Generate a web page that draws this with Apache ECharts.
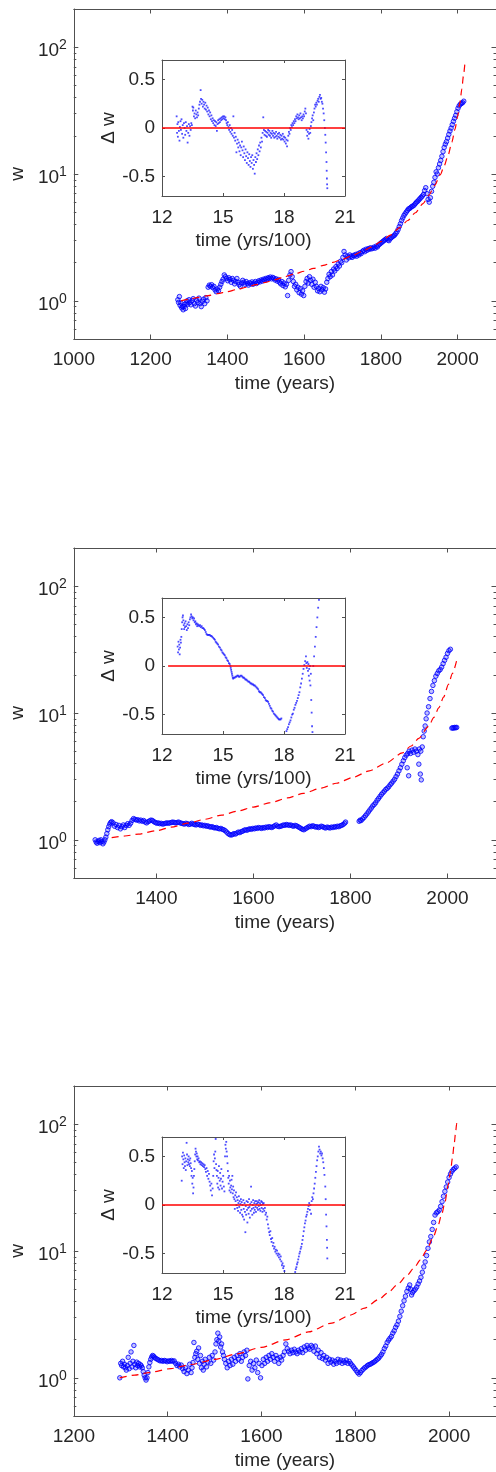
<!DOCTYPE html>
<html><head><meta charset="utf-8">
<script src="https://cdn.jsdelivr.net/npm/echarts@6/dist/echarts.min.js"></script>
<style>html,body{margin:0;padding:0;background:#fff}#c{width:496px;height:1472px}</style>
</head><body><div id="c"></div><script>
// ---------- tick values ----------
const p1XTicks = [1000,1200,1400,1600,1800,2000];
const p2XTicks = [1400,1600,1800,2000];
const p3XTicks = [1200,1400,1600,1800,2000];
const yMajorTicks = [1,10,100];
const yMinorTicks = [0.5,0.6,0.7,0.8,0.9,2,3,4,5,6,7,8,9,20,30,40,50,60,70,80,90,200];
const insetXTicks = [12,15,18,21];
const insetYTicks = [-0.5,0,0.5];

// ---------- panel 1 ----------
const p1Obs = [[1271,1.02],[1273,0.97],[1275,1.08],[1277,0.92],[1279,0.96],[1281,0.88],[1283,0.9],[1285,0.85],[1287,0.9],[1289,0.94],[1291,0.87],[1293,0.96],[1295,1.0],[1297,0.94],[1300,1.02],[1302,0.97],[1305,0.93],[1308,1.0],[1311,1.04],[1314,0.95],[1317,0.91],[1320,1.01],[1323,0.97],[1326,1.05],[1329,0.95],[1332,0.9],[1335,0.99],[1338,1.03],[1341,0.95],[1344,1.06],[1347,1.0],[1350,1.28],[1353,1.33],[1356,1.3],[1359,1.34],[1362,1.27],[1365,1.3],[1368,1.22],[1371,1.18],[1374,1.24],[1377,1.2],[1380,1.28],[1383,1.35],[1386,1.42],[1389,1.48],[1392,1.6],[1395,1.55],[1398,1.5],[1401,1.44],[1404,1.52],[1407,1.47],[1410,1.4],[1413,1.5],[1416,1.45],[1419,1.36],[1422,1.42],[1425,1.5],[1428,1.4],[1431,1.34],[1434,1.3],[1437,1.38],[1440,1.45],[1443,1.4],[1446,1.35],[1449,1.42],[1452,1.37],[1455,1.33],[1458,1.39],[1461,1.36],[1464,1.41],[1467,1.35],[1470,1.38],[1473,1.42],[1476,1.37],[1479,1.4],[1482,1.44],[1485,1.41],[1488,1.46],[1491,1.43],[1494,1.48],[1497,1.45],[1500,1.5],[1503,1.47],[1506,1.52],[1509,1.5],[1512,1.54],[1515,1.49],[1518,1.53],[1521,1.51],[1524,1.46],[1527,1.49],[1530,1.43],[1533,1.47],[1536,1.4],[1539,1.36],[1542,1.42],[1545,1.32],[1548,1.38],[1551,1.29],[1554,1.35],[1557,1.1],[1560,1.45],[1563,1.6],[1566,1.7],[1569,1.55],[1572,1.42],[1575,1.3],[1578,1.35],[1581,1.22],[1584,1.28],[1587,1.16],[1590,1.25],[1593,1.13],[1596,1.2],[1599,1.1],[1602,1.3],[1605,1.42],[1608,1.5],[1611,1.38],[1614,1.55],[1617,1.45],[1620,1.35],[1623,1.48],[1626,1.28],[1629,1.4],[1632,1.3],[1635,1.2],[1638,1.25],[1641,1.18],[1644,1.3],[1647,1.22],[1650,1.27],[1653,1.17],[1656,1.24],[1659,1.4],[1662,1.5],[1665,1.62],[1668,1.55],[1671,1.7],[1674,1.6],[1677,1.78],[1680,1.72],[1683,1.86],[1686,1.8],[1689,1.95],[1692,1.88],[1695,2.05],[1698,2.0],[1701,2.2],[1704,2.45],[1707,2.3],[1710,2.1],[1713,2.25],[1716,2.18],[1719,2.3],[1722,2.24],[1725,2.2],[1728,2.28],[1731,2.26],[1734,2.32],[1737,2.25],[1740,2.35],[1743,2.3],[1746,2.4],[1749,2.36],[1752,2.45],[1755,2.5],[1758,2.44],[1761,2.55],[1764,2.5],[1767,2.58],[1770,2.55],[1773,2.62],[1776,2.57],[1779,2.6],[1782,2.65],[1785,2.6],[1788,2.7],[1791,2.66],[1794,2.75],[1797,2.8],[1800,2.85],[1803,2.9],[1806,2.95],[1809,3.0],[1812,3.05],[1815,3.1],[1818,3.02],[1821,2.98],[1824,3.08],[1827,3.15],[1830,3.2],[1833,3.25],[1836,3.3],[1839,3.4],[1842,3.5],[1845,3.65],[1848,3.85],[1851,4.05],[1854,4.3],[1857,4.5],[1860,4.7],[1863,4.85],[1866,5.0],[1869,5.15],[1872,5.3],[1875,5.35],[1878,5.45],[1881,5.55],[1884,5.6],[1887,5.7],[1890,5.85],[1893,6.0],[1896,6.1],[1899,6.25],[1902,6.4],[1905,6.55],[1908,6.7],[1911,6.9],[1914,7.4],[1917,7.8],[1920,7.0],[1923,6.3],[1926,6.0],[1929,6.5],[1932,7.3],[1935,8.0],[1938,8.6],[1941,9.4],[1944,10.4],[1947,10.0],[1950,11.2],[1953,12.0],[1956,12.8],[1959,13.8],[1962,15.0],[1965,16.2],[1968,17.2],[1971,18.0],[1974,19.2],[1977,20.5],[1980,21.8],[1983,23.0],[1986,24.5],[1989,26.0],[1992,27.5],[1995,29.0],[1998,31.0],[2001,33.0],[2004,34.5],[2007,35.5],[2010,36.0],[2013,36.5],[2016,37.5]];
const p1Fit = [[1279,1.0],[1300,1.03],[1325,1.065],[1350,1.1],[1375,1.14],[1400,1.18],[1425,1.23],[1450,1.28],[1475,1.34],[1500,1.4],[1525,1.47],[1550,1.55],[1575,1.63],[1600,1.71],[1625,1.8],[1650,1.9],[1675,2.01],[1700,2.13],[1725,2.27],[1750,2.44],[1775,2.65],[1800,2.93],[1825,3.3],[1850,3.8],[1870,4.3],[1890,4.95],[1910,5.85],[1925,6.8],[1940,8.1],[1955,9.9],[1965,11.6],[1975,14.0],[1985,17.8],[1993,22.5],[2000,28.5],[2006,36.5],[2011,47.0],[2015,59.0],[2019,75.0]];
const p1Res = [[12.72,0.12],[12.74,-0.05],[12.76,0.04],[12.78,-0.09],[12.80,0.06],[12.83,-0.03],[12.86,-0.13],[12.88,0.01],[12.91,0.07],[12.93,-0.02],[12.96,0.09],[12.99,-0.06],[13.02,0.03],[13.05,-0.1],[13.08,0.05],[13.11,0.0],[13.14,-0.07],[13.17,0.06],[13.20,-0.03],[13.23,0.02],[13.26,-0.15],[13.29,-0.05],[13.32,0.04],[13.35,-0.08],[13.38,0.02],[13.41,-0.02],[13.44,0.05],[13.47,0.03],[13.50,0.22],[13.52,0.18],[13.54,0.21],[13.57,0.12],[13.60,0.15],[13.63,0.1],[13.66,0.18],[13.69,0.14],[13.72,0.11],[13.75,0.16],[13.78,0.13],[13.81,0.2],[13.84,0.24],[13.87,0.27],[13.90,0.39],[13.92,0.3],[13.95,0.25],[13.98,0.29],[14.01,0.22],[14.04,0.27],[14.07,0.24],[14.10,0.2],[14.13,0.26],[14.16,0.19],[14.19,0.23],[14.22,0.17],[14.25,0.21],[14.28,0.14],[14.31,0.18],[14.34,0.12],[14.37,0.16],[14.40,0.09],[14.43,0.13],[14.46,0.07],[14.49,0.1],[14.52,0.05],[14.55,0.08],[14.58,0.03],[14.61,0.07],[14.64,0.02],[14.67,0.06],[14.70,-0.03],[14.73,0.04],[14.76,0.08],[14.79,0.05],[14.82,0.09],[14.85,0.06],[14.88,0.1],[14.91,0.08],[14.94,0.11],[14.97,0.09],[15.00,0.12],[15.03,0.1],[15.06,0.12],[15.09,0.09],[15.12,0.11],[15.15,0.08],[15.18,0.05],[15.21,0.03],[15.24,0.06],[15.27,0.01],[15.30,-0.02],[15.33,0.03],[15.36,-0.04],[15.39,0.0],[15.42,-0.06],[15.45,-0.02],[15.48,-0.08],[15.51,0.12],[15.54,-0.1],[15.57,-0.05],[15.60,-0.13],[15.63,-0.09],[15.66,-0.25],[15.69,-0.16],[15.72,-0.12],[15.75,-0.2],[15.78,-0.15],[15.81,-0.24],[15.84,-0.18],[15.87,-0.28],[15.90,-0.2],[15.93,-0.14],[15.96,-0.23],[15.99,-0.3],[16.02,-0.19],[16.05,-0.26],[16.08,-0.33],[16.11,-0.22],[16.14,-0.29],[16.17,-0.36],[16.20,-0.25],[16.23,-0.31],[16.26,-0.38],[16.29,-0.27],[16.32,-0.34],[16.35,-0.4],[16.38,-0.3],[16.41,-0.36],[16.44,-0.28],[16.47,-0.42],[16.50,-0.33],[16.53,-0.38],[16.56,-0.47],[16.59,-0.3],[16.62,-0.35],[16.65,-0.26],[16.68,-0.32],[16.71,-0.22],[16.74,-0.28],[16.77,-0.18],[16.80,-0.24],[16.83,-0.15],[16.86,-0.2],[16.89,-0.1],[16.92,-0.14],[16.95,-0.05],[16.98,0.11],[17.01,-0.02],[17.04,-0.07],[17.07,-0.03],[17.10,-0.08],[17.13,-0.04],[17.16,-0.09],[17.19,-0.05],[17.22,-0.02],[17.25,-0.07],[17.28,-0.03],[17.31,-0.08],[17.34,-0.05],[17.37,-0.1],[17.40,-0.06],[17.43,-0.03],[17.46,-0.08],[17.49,-0.05],[17.52,-0.1],[17.55,-0.06],[17.58,-0.09],[17.61,-0.04],[17.64,-0.08],[17.67,-0.11],[17.70,-0.06],[17.73,-0.09],[17.76,-0.05],[17.79,-0.1],[17.82,-0.07],[17.85,-0.12],[17.88,-0.08],[17.91,-0.11],[17.94,-0.06],[17.97,-0.12],[18.00,-0.09],[18.03,-0.14],[18.06,-0.1],[18.09,-0.16],[18.12,-0.12],[18.15,-0.19],[18.18,-0.13],[18.21,-0.08],[18.24,-0.04],[18.27,-0.06],[18.30,0.0],[18.33,-0.02],[18.36,0.03],[18.39,0.01],[18.42,0.05],[18.45,0.03],[18.48,0.07],[18.51,0.05],[18.54,0.09],[18.57,0.07],[18.60,0.12],[18.63,0.1],[18.66,0.14],[18.69,0.11],[18.72,0.09],[18.75,0.13],[18.78,0.1],[18.81,0.15],[18.84,0.11],[18.87,0.08],[18.90,0.12],[18.93,0.1],[18.96,0.14],[18.99,0.12],[19.02,0.17],[19.05,0.2],[19.08,0.15],[19.11,-0.02],[19.14,-0.08],[19.17,-0.04],[19.20,-0.11],[19.23,-0.06],[19.26,-0.01],[19.29,-0.05],[19.32,0.02],[19.35,0.06],[19.38,0.1],[19.41,0.13],[19.44,0.08],[19.47,0.16],[19.50,0.2],[19.53,0.24],[19.56,0.22],[19.59,0.26],[19.62,0.24],[19.65,0.28],[19.68,0.3],[19.71,0.27],[19.74,0.32],[19.77,0.34],[19.80,0.3],[19.83,0.31],[19.86,0.27],[19.89,0.25],[19.92,0.2],[19.95,0.15],[19.98,0.08],[20.01,0.0],[20.03,-0.07],[20.05,-0.15],[20.07,-0.25],[20.09,-0.35],[20.10,-0.44],[20.11,-0.52],[20.12,-0.58],[20.13,-0.62]];
const p1Zero = [[12,0],[21,0]];

// ---------- panel 2 ----------
const p2Obs = [[1274,1.0],[1276,0.96],[1278,0.94],[1280,0.97],[1282,0.99],[1284,0.95],[1286,1.0],[1288,0.97],[1290,0.93],[1292,0.96],[1294,1.0],[1296,1.05],[1298,1.12],[1300,1.2],[1302,1.27],[1304,1.33],[1306,1.37],[1308,1.39],[1311,1.36],[1314,1.28],[1317,1.32],[1320,1.25],[1323,1.3],[1326,1.22],[1329,1.27],[1332,1.31],[1335,1.25],[1338,1.3],[1341,1.34],[1344,1.3],[1347,1.35],[1350,1.42],[1353,1.47],[1356,1.45],[1359,1.43],[1362,1.44],[1365,1.41],[1368,1.43],[1371,1.4],[1374,1.42],[1377,1.38],[1380,1.36],[1383,1.39],[1386,1.41],[1389,1.43],[1392,1.42],[1395,1.39],[1398,1.37],[1401,1.35],[1404,1.36],[1407,1.34],[1410,1.35],[1413,1.33],[1416,1.34],[1419,1.35],[1422,1.36],[1425,1.35],[1428,1.36],[1431,1.37],[1434,1.38],[1437,1.37],[1440,1.36],[1443,1.37],[1446,1.38],[1449,1.36],[1452,1.35],[1455,1.34],[1458,1.33],[1461,1.35],[1464,1.34],[1467,1.32],[1470,1.33],[1473,1.35],[1476,1.33],[1479,1.32],[1482,1.31],[1485,1.33],[1488,1.32],[1491,1.3],[1494,1.31],[1497,1.29],[1500,1.3],[1503,1.28],[1506,1.29],[1509,1.27],[1512,1.26],[1515,1.27],[1518,1.25],[1521,1.24],[1524,1.25],[1527,1.23],[1530,1.22],[1533,1.23],[1536,1.21],[1539,1.2],[1542,1.18],[1545,1.15],[1548,1.12],[1551,1.1],[1554,1.09],[1557,1.1],[1560,1.12],[1563,1.11],[1566,1.13],[1569,1.15],[1572,1.14],[1575,1.16],[1578,1.17],[1581,1.19],[1584,1.2],[1587,1.19],[1590,1.21],[1593,1.22],[1596,1.21],[1599,1.23],[1602,1.22],[1605,1.24],[1608,1.23],[1611,1.25],[1614,1.24],[1617,1.23],[1620,1.25],[1623,1.24],[1626,1.26],[1629,1.25],[1632,1.27],[1635,1.26],[1638,1.25],[1641,1.27],[1644,1.29],[1647,1.31],[1650,1.28],[1653,1.27],[1656,1.28],[1659,1.29],[1662,1.31],[1665,1.3],[1668,1.32],[1671,1.31],[1674,1.3],[1677,1.31],[1680,1.29],[1683,1.28],[1686,1.3],[1689,1.29],[1692,1.27],[1695,1.25],[1698,1.23],[1701,1.21],[1704,1.2],[1707,1.22],[1710,1.24],[1713,1.26],[1716,1.28],[1719,1.27],[1722,1.29],[1725,1.28],[1728,1.26],[1731,1.27],[1734,1.25],[1737,1.26],[1740,1.28],[1743,1.27],[1746,1.25],[1749,1.24],[1752,1.26],[1755,1.25],[1758,1.24],[1761,1.26],[1764,1.25],[1767,1.27],[1770,1.26],[1773,1.28],[1776,1.27],[1779,1.29],[1782,1.3],[1785,1.32],[1788,1.35],[1790,1.38],[1818,1.4],[1820,1.43],[1822,1.42],[1825,1.46],[1828,1.5],[1831,1.55],[1834,1.6],[1837,1.66],[1840,1.72],[1843,1.78],[1846,1.85],[1849,1.9],[1852,1.96],[1855,2.05],[1858,2.12],[1861,2.2],[1864,2.28],[1867,2.35],[1870,2.42],[1873,2.5],[1876,2.55],[1879,2.62],[1882,2.72],[1885,2.8],[1888,2.9],[1891,3.0],[1894,3.15],[1897,3.3],[1900,3.5],[1903,3.7],[1906,3.95],[1909,4.2],[1912,4.45],[1915,4.65],[1917,3.7],[1918,4.8],[1920,3.2],[1921,5.0],[1924,4.8],[1927,5.1],[1930,4.9],[1933,5.2],[1936,5.0],[1939,4.7],[1941,3.95],[1942,5.2],[1944,3.3],[1945,5.0],[1946,2.97],[1948,5.4],[1950,6.5],[1952,7.2],[1954,7.9],[1956,9.0],[1958,10.0],[1961,11.2],[1964,13.0],[1967,14.8],[1970,16.5],[1973,18.0],[1976,19.5],[1979,20.5],[1982,21.5],[1985,22.0],[1988,23.0],[1991,24.5],[1994,26.0],[1997,27.5],[2000,29.5],[2003,31.0],[2006,31.8],[2009,7.6],[2011,7.65],[2013,7.6],[2015,7.7],[2017,7.65],[2019,7.7]];
const p2Fit = [[1308,1.04],[1335,1.072],[1363,1.109],[1400,1.18],[1431,1.259],[1465,1.352],[1500,1.452],[1535,1.567],[1567,1.683],[1600,1.811],[1635,1.963],[1670,2.138],[1703,2.323],[1740,2.559],[1771,2.793],[1805,3.105],[1839,3.499],[1873,4.027],[1907,4.842],[1925,5.495],[1941,6.31],[1961,7.852],[1972,9.226],[1982,10.96],[1992,13.34],[2002,16.79],[2010,20.42],[2019,26.0]];
const p2Res = [[12.77,0.2],[12.79,0.14],[12.81,0.25],[12.83,0.17],[12.85,0.22],[12.87,0.12],[12.89,0.19],[12.91,0.27],[12.93,0.24],[12.95,0.3],[12.97,0.38],[12.99,0.45],[13.01,0.5],[13.03,0.52],[13.05,0.47],[13.07,0.42],[13.09,0.38],[13.11,0.44],[13.13,0.4],[13.16,0.46],[13.19,0.41],[13.22,0.37],[13.25,0.43],[13.28,0.39],[13.31,0.45],[13.34,0.42],[13.37,0.48],[13.40,0.5],[13.43,0.53],[13.46,0.51],[13.49,0.49],[13.52,0.5],[13.55,0.47],[13.58,0.49],[13.61,0.45],[13.64,0.46],[13.67,0.43],[13.70,0.44],[13.73,0.41],[13.76,0.43],[13.79,0.42],[13.83,0.41],[13.87,0.42],[13.91,0.4],[13.95,0.41],[13.99,0.39],[14.03,0.39],[14.07,0.38],[14.11,0.37],[14.15,0.35],[14.19,0.33],[14.23,0.32],[14.27,0.32],[14.31,0.32],[14.35,0.32],[14.39,0.31],[14.43,0.31],[14.47,0.3],[14.52,0.29],[14.56,0.28],[14.60,0.27],[14.64,0.25],[14.68,0.24],[14.72,0.23],[14.76,0.22],[14.80,0.2],[14.85,0.19],[14.89,0.17],[14.93,0.16],[14.97,0.14],[15.01,0.13],[15.05,0.12],[15.09,0.11],[15.13,0.09],[15.17,0.08],[15.21,0.06],[15.25,0.05],[15.29,0.03],[15.33,0.02],[15.36,0.0],[15.38,-0.02],[15.40,-0.04],[15.42,-0.06],[15.44,-0.08],[15.46,-0.1],[15.48,-0.12],[15.50,-0.13],[15.54,-0.12],[15.58,-0.12],[15.62,-0.11],[15.66,-0.11],[15.70,-0.1],[15.74,-0.1],[15.78,-0.11],[15.82,-0.11],[15.86,-0.1],[15.91,-0.1],[15.95,-0.11],[15.99,-0.12],[16.03,-0.12],[16.07,-0.13],[16.11,-0.14],[16.15,-0.14],[16.19,-0.15],[16.24,-0.16],[16.28,-0.16],[16.32,-0.17],[16.36,-0.18],[16.40,-0.18],[16.44,-0.19],[16.48,-0.19],[16.52,-0.2],[16.56,-0.2],[16.60,-0.21],[16.65,-0.22],[16.69,-0.23],[16.73,-0.24],[16.77,-0.26],[16.81,-0.27],[16.85,-0.27],[16.89,-0.28],[16.93,-0.29],[16.97,-0.3],[17.01,-0.32],[17.06,-0.33],[17.10,-0.35],[17.14,-0.36],[17.18,-0.36],[17.22,-0.37],[17.26,-0.39],[17.30,-0.41],[17.34,-0.43],[17.38,-0.44],[17.42,-0.46],[17.46,-0.47],[17.50,-0.49],[17.55,-0.5],[17.59,-0.51],[17.63,-0.52],[17.67,-0.53],[17.71,-0.54],[17.75,-0.55],[17.79,-0.55],[17.83,-0.55],[17.87,-0.54],[18.12,-0.67],[18.16,-0.65],[18.20,-0.63],[18.24,-0.6],[18.28,-0.58],[18.32,-0.56],[18.36,-0.53],[18.40,-0.5],[18.44,-0.49],[18.48,-0.45],[18.52,-0.43],[18.56,-0.4],[18.60,-0.38],[18.64,-0.36],[18.68,-0.33],[18.72,-0.3],[18.76,-0.27],[18.80,-0.22],[18.84,-0.18],[18.88,-0.13],[18.92,-0.08],[18.96,-0.03],[19.00,0.01],[19.04,0.05],[19.08,0.1],[19.10,0.03],[19.12,-0.02],[19.15,0.04],[19.18,-0.05],[19.20,0.02],[19.22,-0.1],[19.24,-0.03],[19.26,-0.15],[19.28,0.0],[19.30,-0.2],[19.32,-0.08],[19.34,-0.35],[19.36,-0.48],[19.38,-0.62],[19.40,-0.68],[19.44,0.0],[19.48,0.1],[19.52,0.2],[19.56,0.3],[19.60,0.4],[19.64,0.5],[19.68,0.6],[19.72,0.68]];
const p2Zero = [[12.3,0],[21,0]];

// ---------- panel 3 ----------
const p3Obs = [[1298,1.0],[1300,1.3],[1302,1.25],[1304,1.35],[1306,1.22],[1308,1.28],[1310,1.2],[1312,1.15],[1314,1.25],[1316,1.45],[1318,1.18],[1320,1.3],[1322,1.6],[1324,1.22],[1326,1.35],[1328,1.8],[1330,1.28],[1332,1.2],[1334,1.33],[1336,1.25],[1338,1.3],[1340,1.22],[1342,1.27],[1344,1.24],[1346,1.2],[1348,1.12],[1350,1.05],[1352,1.0],[1354,0.96],[1356,1.0],[1358,1.1],[1360,1.22],[1362,1.32],[1364,1.4],[1366,1.46],[1368,1.5],[1370,1.48],[1372,1.45],[1375,1.42],[1378,1.4],[1381,1.38],[1384,1.36],[1387,1.37],[1390,1.35],[1393,1.37],[1396,1.36],[1399,1.34],[1402,1.36],[1405,1.35],[1408,1.37],[1411,1.35],[1414,1.36],[1417,1.3],[1420,1.25],[1423,1.28],[1426,1.22],[1429,1.26],[1432,1.18],[1435,1.12],[1438,1.2],[1441,1.08],[1444,1.15],[1447,1.28],[1450,1.1],[1452,1.2],[1454,1.32],[1456,1.9],[1458,1.45],[1460,1.55],[1462,1.62],[1464,1.4],[1466,1.72],[1468,1.3],[1470,1.5],[1472,1.2],[1474,1.35],[1476,1.15],[1478,1.28],[1480,1.4],[1483,1.22],[1486,1.33],[1489,1.45],[1492,1.3],[1495,1.5],[1498,1.38],[1501,1.6],[1503,1.85],[1505,2.0],[1507,2.25],[1509,1.95],[1511,2.1],[1513,1.75],[1515,1.85],[1517,1.6],[1519,1.5],[1521,1.4],[1524,1.3],[1527,1.2],[1530,1.35],[1533,1.25],[1536,1.4],[1539,1.28],[1542,1.45],[1545,1.35],[1548,1.5],[1551,1.4],[1554,1.55],[1557,1.35],[1560,1.45],[1563,1.6],[1566,1.5],[1569,1.65],[1571,0.98],[1574,1.25],[1577,1.35],[1580,1.15],[1583,1.3],[1586,1.2],[1589,1.38],[1592,1.1],[1595,1.3],[1598,1.0],[1601,1.25],[1604,1.4],[1607,1.3],[1610,1.45],[1613,1.35],[1616,1.5],[1619,1.4],[1622,1.55],[1625,1.45],[1628,1.35],[1631,1.5],[1634,1.42],[1637,1.3],[1640,1.45],[1643,1.38],[1646,1.5],[1649,1.6],[1652,1.85],[1655,1.7],[1658,1.62],[1661,1.55],[1664,1.65],[1667,1.58],[1670,1.68],[1673,1.6],[1676,1.55],[1679,1.65],[1682,1.6],[1685,1.7],[1688,1.58],[1691,1.75],[1694,1.65],[1697,1.8],[1700,1.72],[1703,1.68],[1706,1.8],[1709,1.75],[1712,1.62],[1715,1.78],[1718,1.55],[1721,1.65],[1724,1.45],[1727,1.58],[1730,1.42],[1733,1.5],[1736,1.38],[1739,1.45],[1742,1.3],[1745,1.4],[1748,1.33],[1751,1.38],[1754,1.28],[1757,1.35],[1760,1.3],[1763,1.4],[1766,1.33],[1769,1.38],[1772,1.3],[1775,1.36],[1778,1.32],[1781,1.38],[1784,1.3],[1787,1.35],[1790,1.3],[1793,1.26],[1796,1.22],[1799,1.18],[1802,1.14],[1805,1.1],[1808,1.07],[1811,1.1],[1814,1.14],[1817,1.17],[1820,1.2],[1823,1.22],[1826,1.25],[1829,1.27],[1832,1.28],[1835,1.3],[1838,1.32],[1841,1.34],[1844,1.37],[1847,1.4],[1850,1.43],[1853,1.48],[1856,1.53],[1859,1.6],[1862,1.7],[1865,1.78],[1868,1.9],[1871,1.98],[1874,2.05],[1877,2.12],[1880,2.25],[1883,2.35],[1886,2.5],[1889,2.62],[1892,2.8],[1895,3.05],[1898,3.35],[1901,3.7],[1904,4.05],[1907,4.4],[1910,4.8],[1913,5.1],[1916,5.4],[1918,5.0],[1920,4.5],[1922,4.7],[1925,4.85],[1928,5.0],[1931,5.2],[1934,5.5],[1937,5.8],[1940,6.2],[1943,6.8],[1946,7.5],[1949,8.2],[1952,9.2],[1955,10.5],[1958,11.8],[1961,13.0],[1964,14.8],[1967,16.8],[1970,19.2],[1973,20.0],[1976,20.4],[1979,21.0],[1982,22.5],[1985,24.5],[1988,27.0],[1991,29.5],[1994,32.0],[1997,35.0],[2000,38.0],[2003,40.5],[2006,42.5],[2009,44.0],[2012,45.0],[2015,46.0]];
const p3Fit = [[1298,1.0],[1330,1.05],[1360,1.1],[1407,1.183],[1450,1.274],[1500,1.396],[1547,1.542],[1600,1.738],[1652,1.995],[1700,2.301],[1750,2.704],[1790,3.126],[1820,3.548],[1850,4.15],[1870,4.699],[1890,5.433],[1910,6.397],[1925,7.345],[1939,8.511],[1952,10.12],[1966,12.82],[1976,15.67],[1984,19.28],[1991,23.99],[1998,33.11],[2003,42.17],[2007,53.7],[2011,70.8],[2014,87.1],[2016,100.0],[2017,107.0]];
const p3Res = [[12.97,0.25],[12.99,0.5],[13.01,0.42],[13.03,0.54],[13.05,0.47],[13.07,0.38],[13.09,0.51],[13.11,0.44],[13.13,0.4],[13.15,0.48],[13.17,0.36],[13.19,0.45],[13.21,0.64],[13.23,0.52],[13.25,0.41],[13.27,0.47],[13.29,0.44],[13.31,0.5],[13.33,0.42],[13.35,0.46],[13.37,0.4],[13.39,0.48],[13.41,0.43],[13.43,0.38],[13.45,0.3],[13.47,0.35],[13.49,0.22],[13.51,0.28],[13.53,0.12],[13.55,0.18],[13.57,0.3],[13.59,0.37],[13.61,0.45],[13.63,0.52],[13.65,0.58],[13.67,0.55],[13.69,0.5],[13.71,0.53],[13.73,0.47],[13.75,0.5],[13.77,0.46],[13.80,0.48],[13.83,0.44],[13.86,0.45],[13.89,0.42],[13.92,0.44],[13.95,0.41],[13.98,0.43],[14.01,0.4],[14.04,0.42],[14.07,0.39],[14.10,0.41],[14.13,0.37],[14.16,0.34],[14.19,0.38],[14.22,0.3],[14.25,0.35],[14.28,0.27],[14.31,0.32],[14.34,0.24],[14.37,0.2],[14.40,0.15],[14.43,0.22],[14.46,0.1],[14.49,0.17],[14.52,0.3],[14.54,0.45],[14.56,0.52],[14.58,0.38],[14.60,0.48],[14.62,0.55],[14.64,0.68],[14.66,0.42],[14.68,0.36],[14.70,0.3],[14.72,0.22],[14.74,0.35],[14.76,0.18],[14.78,0.28],[14.80,0.4],[14.82,0.16],[14.84,0.25],[14.86,0.33],[14.88,0.2],[14.90,0.27],[14.92,0.37],[14.95,0.17],[14.98,0.24],[15.01,0.3],[15.04,0.19],[15.07,0.14],[15.10,0.5],[15.12,0.62],[15.14,0.58],[15.16,0.65],[15.18,0.55],[15.20,0.5],[15.22,0.43],[15.24,0.35],[15.26,0.28],[15.28,0.22],[15.30,0.3],[15.32,0.15],[15.34,0.25],[15.36,0.18],[15.38,0.13],[15.40,0.2],[15.42,0.26],[15.44,0.16],[15.46,0.3],[15.48,0.12],[15.50,0.19],[15.52,0.08],[15.54,0.15],[15.56,0.06],[15.58,-0.04],[15.60,0.1],[15.62,0.04],[15.64,0.13],[15.66,0.0],[15.68,0.08],[15.70,-0.03],[15.72,0.05],[15.74,-0.06],[15.76,0.02],[15.78,0.09],[15.80,-0.02],[15.82,0.04],[15.84,-0.08],[15.86,0.01],[15.88,0.06],[15.90,-0.05],[15.92,0.03],[15.94,-0.1],[15.96,0.0],[15.98,-0.12],[16.00,0.05],[16.02,-0.04],[16.04,-0.15],[16.06,0.02],[16.08,-0.07],[16.10,-0.28],[16.12,-0.01],[16.14,-0.1],[16.16,0.04],[16.18,-0.05],[16.20,-0.18],[16.22,0.03],[16.24,-0.03],[16.26,-0.09],[16.28,0.06],[16.30,-0.02],[16.32,-0.13],[16.34,0.01],[16.36,-0.06],[16.38,0.19],[16.40,0.03],[16.42,-0.04],[16.44,-0.1],[16.46,0.0],[16.48,0.05],[16.50,-0.03],[16.52,-0.08],[16.54,0.02],[16.56,-0.05],[16.58,0.04],[16.60,-0.02],[16.62,-0.07],[16.64,0.01],[16.66,0.04],[16.68,-0.03],[16.70,0.02],[16.72,-0.05],[16.74,0.03],[16.76,-0.01],[16.78,0.05],[16.80,-0.04],[16.82,0.02],[16.84,-0.06],[16.86,0.0],[16.88,0.04],[16.90,-0.03],[16.92,0.03],[16.94,-0.07],[16.96,0.01],[16.98,-0.04],[17.00,0.02],[17.03,-0.06],[17.06,-0.03],[17.09,-0.1],[17.12,-0.08],[17.15,-0.15],[17.18,-0.12],[17.21,-0.2],[17.24,-0.24],[17.27,-0.28],[17.30,-0.31],[17.33,-0.27],[17.36,-0.35],[17.39,-0.38],[17.42,-0.34],[17.45,-0.42],[17.48,-0.39],[17.51,-0.45],[17.54,-0.43],[17.57,-0.48],[17.60,-0.46],[17.63,-0.5],[17.66,-0.47],[17.69,-0.52],[17.72,-0.5],[17.75,-0.54],[17.78,-0.51],[17.81,-0.56],[17.84,-0.53],[17.87,-0.58],[17.90,-0.62],[17.93,-0.6],[17.96,-0.65],[17.99,-0.63],[18.02,-0.68],[18.55,-0.69],[18.58,-0.66],[18.61,-0.64],[18.64,-0.61],[18.67,-0.59],[18.70,-0.56],[18.73,-0.53],[18.76,-0.5],[18.79,-0.48],[18.82,-0.45],[18.85,-0.43],[18.88,-0.4],[18.91,-0.36],[18.94,-0.32],[18.97,-0.27],[19.00,-0.23],[19.03,-0.19],[19.06,-0.16],[19.09,-0.12],[19.12,-0.1],[19.15,-0.07],[19.18,-0.04],[19.21,-0.01],[19.24,0.02],[19.27,-0.05],[19.30,0.0],[19.33,-0.09],[19.36,0.04],[19.39,0.08],[19.42,0.06],[19.45,0.12],[19.48,0.17],[19.51,0.22],[19.54,0.28],[19.57,0.34],[19.60,0.4],[19.63,0.46],[19.66,0.5],[19.69,0.55],[19.72,0.6],[19.75,0.57],[19.78,0.53],[19.81,0.55],[19.84,0.51],[19.87,0.53],[19.90,0.48],[19.93,0.44],[19.96,0.38],[19.99,0.31],[20.03,0.19],[20.05,0.06],[20.07,-0.1],[20.09,-0.22],[20.11,-0.36],[20.12,-0.44],[20.13,-0.55]];
const p3Zero = [[12,0],[21,0]];

// ---------- build ----------
const FONT = '"Liberation Sans", Arial, Helvetica, sans-serif';
const TXT = '#262626';
const AXC = '#505050';
const FS = 19;
const grids = [], xAxes = [], yAxes = [], series = [];

function xAx(g, pos, min, max, ticks, withLabels, name, tickLen, labelMargin) {
  return {
    gridIndex: g, type: 'value', position: pos, min: min, max: max,
    name: withLabels ? name : '', nameLocation: 'middle', nameGap: 35,
    nameTextStyle: {color: TXT, fontSize: FS, fontFamily: FONT},
    axisLine: {show: true, onZero: false, lineStyle: {color: AXC, width: 1}},
    axisTick: {show: true, inside: true, length: tickLen, customValues: ticks, lineStyle: {color: AXC, width: 1}},
    axisLabel: {show: withLabels, customValues: ticks, margin: labelMargin, color: TXT, fontSize: FS, fontFamily: FONT,
      formatter: function (v) { return String(v); }},
    splitLine: {show: false}, minorTick: {show: false}
  };
}
function logAx(g, pos, ticks, tickLen, withLabels, showLine) {
  return {
    gridIndex: g, type: 'log', logBase: 10, position: pos, min: 0.5, max: 200,
    name: withLabels ? 'w' : '', nameLocation: 'middle', nameGap: 40,
    nameTextStyle: {color: TXT, fontSize: FS, fontFamily: FONT},
    axisLine: {show: showLine, onZero: false, lineStyle: {color: AXC, width: 1}},
    axisTick: {show: true, inside: true, length: tickLen, customValues: ticks, lineStyle: {color: AXC, width: 1}},
    axisLabel: {show: withLabels, customValues: ticks, margin: 7,
      formatter: function (v) { return '{b|10}{s|' + Math.round(Math.log10(v)) + '}'; },
      rich: {
        b: {fontSize: FS, fontFamily: FONT, color: TXT, padding: [7, 0, 0, 0]},
        s: {fontSize: 14, fontFamily: FONT, color: TXT, verticalAlign: 'top', padding: [4, 0, 0, 0]}
      }},
    splitLine: {show: false}, minorTick: {show: false}
  };
}
function linAx(g, pos, withLabels) {
  return {
    gridIndex: g, type: 'value', position: pos, min: -0.7, max: 0.7,
    name: withLabels ? 'Δ w' : '', nameLocation: 'middle', nameGap: 44,
    nameTextStyle: {color: TXT, fontSize: FS, fontFamily: FONT},
    axisLine: {show: true, onZero: false, lineStyle: {color: AXC, width: 1}},
    axisTick: {show: true, inside: true, length: 3, customValues: insetYTicks, lineStyle: {color: AXC, width: 1}},
    axisLabel: {show: withLabels, customValues: insetYTicks, margin: 7, color: TXT, fontSize: FS, fontFamily: FONT,
      formatter: function (v) { return String(v); }},
    splitLine: {show: false}, minorTick: {show: false}
  };
}

function addPanel(o) {
  const gm = grids.length;
  grids.push({left: 68, top: o.top, width: 429, height: 330});
  const gi = grids.length;
  grids.push({left: 162, top: o.insetTop, width: 183, height: 136});
  const xm = xAxes.length;
  xAxes.push(xAx(gm, 'bottom', o.xMin, 2100, o.xTicks, true, 'time (years)', 4.5, 11));
  xAxes.push(xAx(gm, 'top', o.xMin, 2100, o.xTicks, false, '', 4.5, 11));
  const ym = yAxes.length;
  yAxes.push(logAx(gm, 'left', yMajorTicks, 4.5, true, true));
  yAxes.push(logAx(gm, 'left', yMinorTicks, 2.5, false, false));
  yAxes.push(logAx(gm, 'right', yMajorTicks, 4.5, false, true));
  yAxes.push(logAx(gm, 'right', yMinorTicks, 2.5, false, false));
  const xi = xAxes.length;
  xAxes.push(xAx(gi, 'bottom', 12, 21, insetXTicks, true, 'time (yrs/100)', 3, 12));
  xAxes.push(xAx(gi, 'top', 12, 21, insetXTicks, false, '', 3, 12));
  const yi = yAxes.length;
  yAxes.push(linAx(gi, 'left', true));
  yAxes.push(linAx(gi, 'right', false));

  series.push({type: 'scatter', xAxisIndex: xm, yAxisIndex: ym, data: o.obs, symbol: 'circle', symbolSize: 4.5,
    itemStyle: {color: 'rgba(0,0,255,0.3)', borderColor: '#0000ff', borderWidth: 1}, silent: true});
  series.push({type: 'line', xAxisIndex: xm, yAxisIndex: ym, data: o.fit, showSymbol: false, smooth: 0.25, smoothMonotone: 'x',
    lineStyle: {color: '#ff0000', width: 1.2, type: [7, 5]}, silent: true});
  series.push({type: 'scatter', xAxisIndex: xi, yAxisIndex: yi, data: o.res, symbol: 'rect', symbolSize: 1.8,
    itemStyle: {color: '#1f1fff'}, silent: true});
  series.push({type: 'line', xAxisIndex: xi, yAxisIndex: yi, data: o.zero, showSymbol: false,
    lineStyle: {color: o.zeroColor, width: o.zeroWidth}, silent: true});
}

addPanel({top: 9, insetTop: 60, xMin: 1000, xTicks: p1XTicks, obs: p1Obs, fit: p1Fit, res: p1Res, zero: p1Zero, zeroColor: 'rgba(255,0,0,0.75)', zeroWidth: 2});
addPanel({top: 548, insetTop: 598, xMin: 1230, xTicks: p2XTicks, obs: p2Obs, fit: p2Fit, res: p2Res, zero: p2Zero, zeroColor: '#ff0000', zeroWidth: 1.5});
addPanel({top: 1086, insetTop: 1137, xMin: 1200, xTicks: p3XTicks, obs: p3Obs, fit: p3Fit, res: p3Res, zero: p3Zero, zeroColor: 'rgba(255,0,0,0.75)', zeroWidth: 2});

const chart = echarts.init(document.getElementById('c'), null, {renderer: 'canvas'});
chart.setOption({
  backgroundColor: '#ffffff',
  animation: false,
  grid: grids, xAxis: xAxes, yAxis: yAxes, series: series
});
</script></body></html>
